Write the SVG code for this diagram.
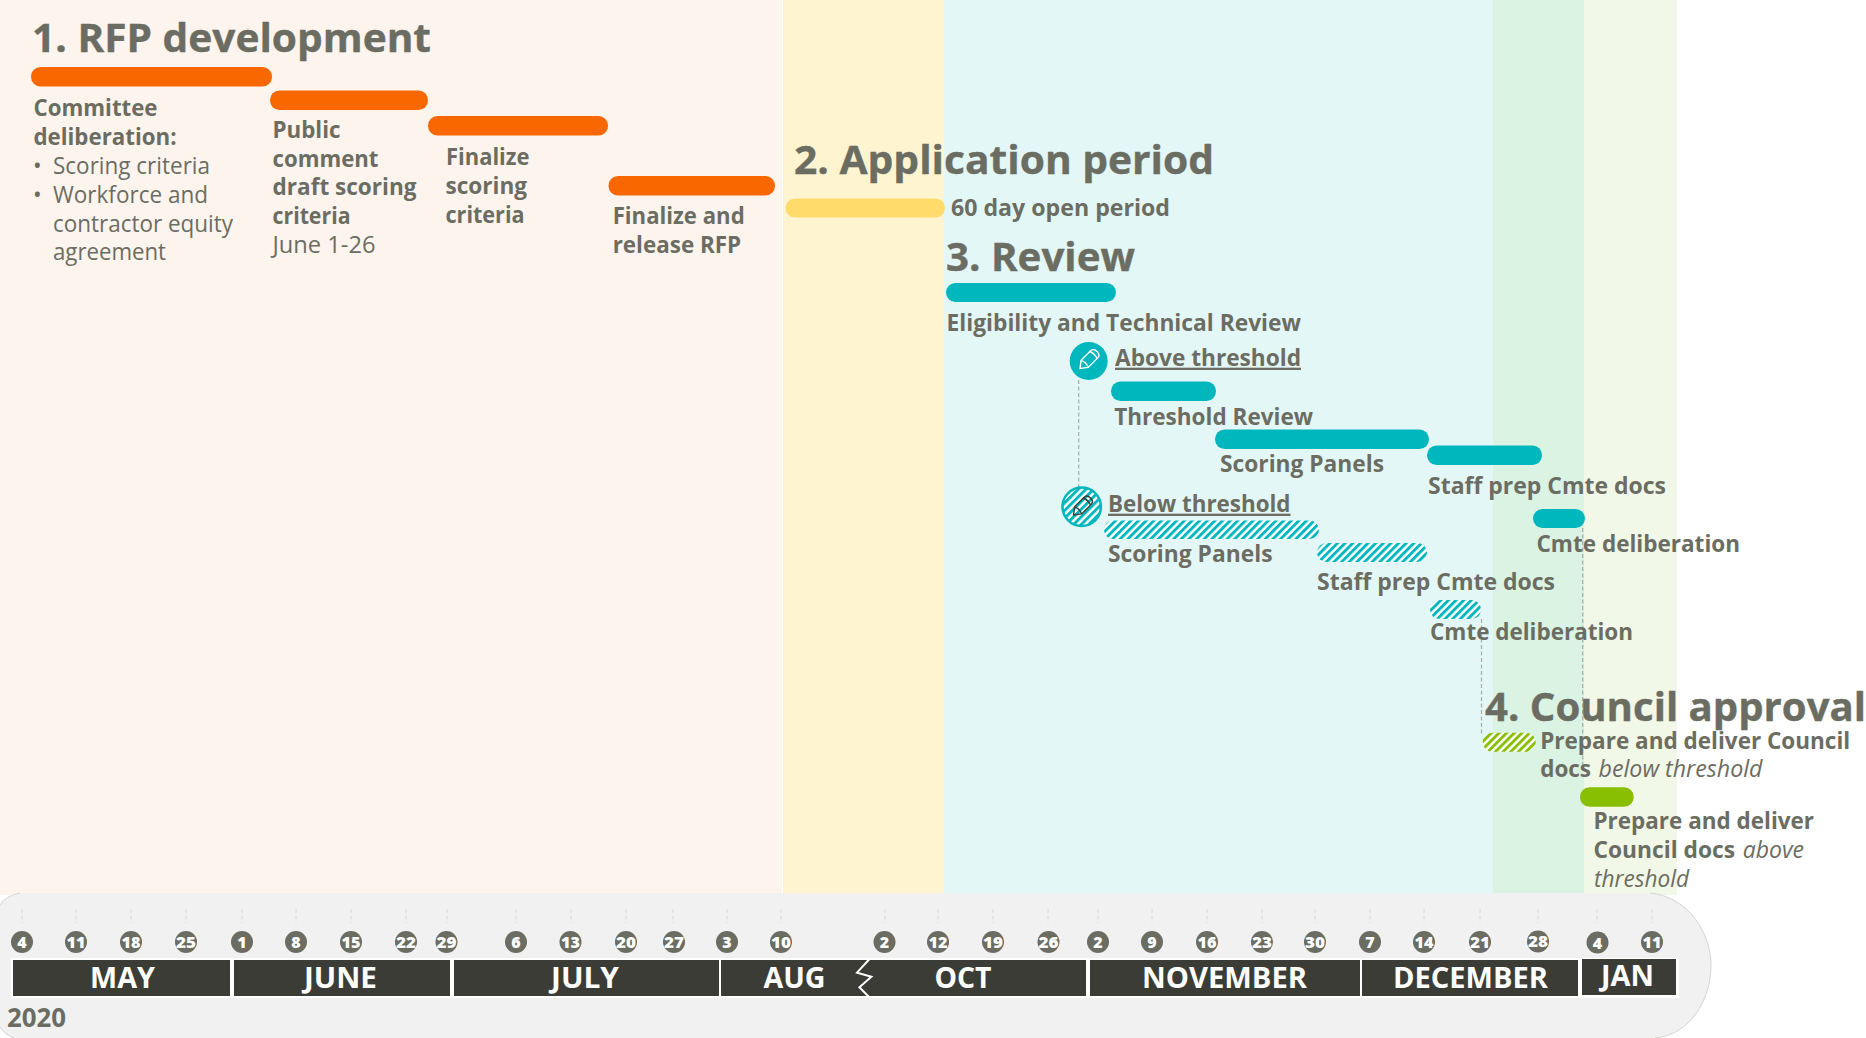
<svg xmlns="http://www.w3.org/2000/svg" width="1866" height="1038" viewBox="0 0 1866 1038">
<style>
text{font-family:"Open Sans","Noto Sans","Liberation Sans",sans-serif;fill:#6B6D62}
.h{font-size:40px;font-weight:700;stroke:#6B6D62;stroke-width:.4px}
.b{font-size:23px;font-weight:700}
.r{font-size:23px;font-weight:400}
.i{font-size:23px;font-weight:400;font-style:italic}
.u{text-decoration:underline}
.m{font-size:28px;font-weight:700;fill:#fff}
.d{font-size:16px;font-weight:800;fill:#fff;text-anchor:middle}
.or{fill:#F96800}.te{fill:#00B7BD}.gr{fill:#88BF00}.ye{fill:#FFDB6B}
.ht{fill:url(#hatchT)}.hg{fill:url(#hatchG)}
.dash{stroke:#A9ABA6;stroke-width:1.2;stroke-dasharray:4 2.5;fill:none}
.tick{stroke:#D8D8D6;stroke-width:1;stroke-dasharray:4 2.5}
.dc{fill:#6B6D62}
.mb{fill:#3B3C36}
</style>
<defs>
<pattern id="hatchT" width="5.4" height="5.4" patternUnits="userSpaceOnUse" patternTransform="rotate(45)"><rect width="5.4" height="5.4" fill="#fff"/><rect width="2.9" height="5.4" fill="#00B7BD"/></pattern>
<pattern id="hatchG" width="5.4" height="5.4" patternUnits="userSpaceOnUse" patternTransform="rotate(45)"><rect width="5.4" height="5.4" fill="#fff"/><rect width="2.9" height="5.4" fill="#88BF00"/></pattern>
<g id="pencil"><path d="M-12 0L-5.500 -5H8Q12 -5 12 0Q12 5 8 5H-5.500Z M-5.500 -5Q-3 0-5.500 5 M7 -5Q9 0 7 5" fill="none" stroke-width="1.400"/></g>
</defs>

<g id="bands">
<rect x="0" y="0" width="782" height="895" fill="#FEF4EE"/>
<rect x="783" y="0" width="161" height="895" fill="#FFF4D0"/>
<rect x="944" y="0" width="549" height="895" fill="#E4F7F7"/>
<rect x="1493" y="0" width="91" height="895" fill="#DAF3E3"/>
<rect x="1584" y="0" width="93" height="895" fill="#F1F8E7"/>
</g>

<g id="timeline">
<path d="M0 905Q5 896 20 893H1650C1690 897 1711 935 1711 965C1711 1000 1690 1035 1655 1038H14Q4 1034 0 1027Z" fill="#F1F1F1"/>
<path d="M0 905Q5 896 20 893M1650 893C1690 897 1711 935 1711 965C1711 1000 1690 1035 1655 1038M14 1038Q4 1034 0 1027" fill="none" stroke="#D4D4D0" stroke-width="1"/>
<g class="ticks">
<path class="tick" d="M22 909V923M76 909V923M131 909V923M186 909V923M242 909V923M296 909V923M351 909V923M406 909V923M447 909V923M516 909V923M571 909V923M626 909V923M673 909V923M727 909V923M781 909V923M885 909V923M938 909V923M993 909V923M1048 909V923M1098 909V923M1152 909V923M1207 909V923M1262 909V923M1315 909V923M1370 909V923M1424 909V923M1480 909V923M1538 909V923M1597 909V923M1652 909V923"/>
</g>
<rect x="11" y="958" width="1668" height="40" fill="#fff"/>
<rect class="mb" x="13" y="960" width="217" height="36"/>
<rect class="mb" x="234" y="960" width="216" height="36"/>
<rect class="mb" x="454" y="960" width="265" height="36"/>
<rect class="mb" x="721" y="960" width="365" height="36"/>
<rect class="mb" x="1090" y="960" width="270" height="36"/>
<rect class="mb" x="1362" y="960" width="216" height="36"/>
<rect class="mb" x="1582" y="959" width="94" height="36"/>
<path d="M869.500 959L857 972.700L871.400 976.700L859.400 987.300L869 997" fill="none" stroke="#fff" stroke-width="2"/>
<text class="m" x="90" y="987.500" textLength="65" lengthAdjust="spacingAndGlyphs">MAY</text>
<text class="m" x="304" y="987.500" textLength="73" lengthAdjust="spacingAndGlyphs">JUNE</text>
<text class="m" x="551" y="987.500" textLength="68" lengthAdjust="spacingAndGlyphs">JULY</text>
<text class="m" x="763.500" y="987.500" textLength="62" lengthAdjust="spacingAndGlyphs">AUG</text>
<text class="m" x="934.500" y="987.500" textLength="57" lengthAdjust="spacingAndGlyphs">OCT</text>
<text class="m" x="1142" y="987.500" textLength="165" lengthAdjust="spacingAndGlyphs">NOVEMBER</text>
<text class="m" x="1393" y="987.500" textLength="155" lengthAdjust="spacingAndGlyphs">DECEMBER</text>
<text class="m" x="1601" y="986" textLength="53" lengthAdjust="spacingAndGlyphs">JAN</text>
<text x="7" y="1026.500" font-size="26" font-weight="700" textLength="59" lengthAdjust="spacingAndGlyphs">2020</text>
<g class="days">
<circle class="dc" cx="22" cy="942" r="11"/><text class="d" x="22" y="948">4</text>
<circle class="dc" cx="76" cy="942" r="11"/><text class="d" x="76" y="948" textLength="19" lengthAdjust="spacingAndGlyphs">11</text>
<circle class="dc" cx="131" cy="942" r="11"/><text class="d" x="131" y="948" textLength="19" lengthAdjust="spacingAndGlyphs">18</text>
<circle class="dc" cx="186" cy="942" r="11"/><text class="d" x="186" y="948" textLength="20" lengthAdjust="spacingAndGlyphs">25</text>
<circle class="dc" cx="242" cy="942" r="11"/><text class="d" x="242" y="948">1</text>
<circle class="dc" cx="296" cy="942" r="11"/><text class="d" x="296" y="948">8</text>
<circle class="dc" cx="351" cy="942" r="11"/><text class="d" x="351" y="948" textLength="19" lengthAdjust="spacingAndGlyphs">15</text>
<circle class="dc" cx="406" cy="942" r="11"/><text class="d" x="406" y="948" textLength="20" lengthAdjust="spacingAndGlyphs">22</text>
<circle class="dc" cx="446.500" cy="942" r="11"/><text class="d" x="446.500" y="948" textLength="20" lengthAdjust="spacingAndGlyphs">29</text>
<circle class="dc" cx="516" cy="942" r="11"/><text class="d" x="516" y="948">6</text>
<circle class="dc" cx="570.500" cy="942" r="11"/><text class="d" x="570.500" y="948" textLength="19" lengthAdjust="spacingAndGlyphs">13</text>
<circle class="dc" cx="626" cy="942" r="11"/><text class="d" x="626" y="948" textLength="20" lengthAdjust="spacingAndGlyphs">20</text>
<circle class="dc" cx="674" cy="942" r="11"/><text class="d" x="674" y="948" textLength="20" lengthAdjust="spacingAndGlyphs">27</text>
<circle class="dc" cx="727" cy="942" r="11"/><text class="d" x="727" y="948">3</text>
<circle class="dc" cx="781" cy="942" r="11"/><text class="d" x="781" y="948" textLength="20" lengthAdjust="spacingAndGlyphs">10</text>
<circle class="dc" cx="884.500" cy="942" r="11"/><text class="d" x="884.500" y="948">2</text>
<circle class="dc" cx="938" cy="942" r="11"/><text class="d" x="938" y="948" textLength="19" lengthAdjust="spacingAndGlyphs">12</text>
<circle class="dc" cx="993" cy="942" r="11"/><text class="d" x="993" y="948" textLength="20" lengthAdjust="spacingAndGlyphs">19</text>
<circle class="dc" cx="1048.500" cy="942" r="11"/><text class="d" x="1048.500" y="948" textLength="20" lengthAdjust="spacingAndGlyphs">26</text>
<circle class="dc" cx="1098" cy="942" r="11"/><text class="d" x="1098" y="948">2</text>
<circle class="dc" cx="1152" cy="942" r="11"/><text class="d" x="1152" y="948">9</text>
<circle class="dc" cx="1207" cy="942" r="11"/><text class="d" x="1207" y="948" textLength="19" lengthAdjust="spacingAndGlyphs">16</text>
<circle class="dc" cx="1262" cy="942" r="11"/><text class="d" x="1262" y="948" textLength="20" lengthAdjust="spacingAndGlyphs">23</text>
<circle class="dc" cx="1315" cy="942" r="11"/><text class="d" x="1315" y="948" textLength="20" lengthAdjust="spacingAndGlyphs">30</text>
<circle class="dc" cx="1370" cy="942" r="11"/><text class="d" x="1370" y="948">7</text>
<circle class="dc" cx="1424" cy="942" r="11"/><text class="d" x="1424" y="948" textLength="19" lengthAdjust="spacingAndGlyphs">14</text>
<circle class="dc" cx="1480" cy="942" r="11"/><text class="d" x="1480" y="948" textLength="20" lengthAdjust="spacingAndGlyphs">21</text>
<circle class="dc" cx="1538" cy="941.500" r="11"/><text class="d" x="1538" y="947" textLength="20" lengthAdjust="spacingAndGlyphs">28</text>
<circle class="dc" cx="1597.500" cy="942.500" r="11"/><text class="d" x="1597.500" y="948.500">4</text>
<circle class="dc" cx="1652" cy="942" r="11"/><text class="d" x="1652" y="948" textLength="19" lengthAdjust="spacingAndGlyphs">11</text>
</g>
</g>

<g id="connectors">
<path class="dash" d="M1078.700 380V492"/>
<path class="dash" d="M1481.500 619V735"/>
<path class="dash" d="M1582.700 528V768"/>
</g>

<g id="phase1">
<text class="h" x="32" y="52" textLength="399" lengthAdjust="spacingAndGlyphs">1. RFP development</text>
</g>
<g id="task-committee">
<rect class="or" x="31" y="67" width="241" height="19.500" rx="9.500"/>
<text class="b" x="33.500" y="116" textLength="124" lengthAdjust="spacingAndGlyphs">Committee</text>
<text class="b" x="33.500" y="144.500" textLength="143" lengthAdjust="spacingAndGlyphs">deliberation:</text>
<text class="r" x="33" y="173.500">•</text>
<text class="r" x="53" y="173.500" textLength="157" lengthAdjust="spacingAndGlyphs">Scoring criteria</text>
<text class="r" x="33" y="202.500">•</text>
<text class="r" x="53" y="202.500" textLength="155" lengthAdjust="spacingAndGlyphs">Workforce and</text>
<text class="r" x="53" y="232" textLength="180" lengthAdjust="spacingAndGlyphs">contractor equity</text>
<text class="r" x="53" y="260" textLength="113" lengthAdjust="spacingAndGlyphs">agreement</text>
</g>
<g id="task-public">
<rect class="or" x="270" y="90.500" width="158" height="19.500" rx="9.500"/>
<text class="b" x="272.500" y="138" textLength="68" lengthAdjust="spacingAndGlyphs">Public</text>
<text class="b" x="272.500" y="166.700" textLength="106" lengthAdjust="spacingAndGlyphs">comment</text>
<text class="b" x="272.500" y="194.700" textLength="144" lengthAdjust="spacingAndGlyphs">draft scoring</text>
<text class="b" x="272.500" y="223.700" textLength="78" lengthAdjust="spacingAndGlyphs">criteria</text>
<text class="r" x="272.500" y="253" textLength="103" lengthAdjust="spacingAndGlyphs">June 1-26</text>
</g>
<g id="task-finalize">
<rect class="or" x="428" y="116" width="180" height="19.500" rx="9.500"/>
<text class="b" x="446" y="165" textLength="83.500" lengthAdjust="spacingAndGlyphs">Finalize</text>
<text class="b" x="445.500" y="194" textLength="81.500" lengthAdjust="spacingAndGlyphs">scoring</text>
<text class="b" x="445.500" y="222.700" textLength="79" lengthAdjust="spacingAndGlyphs">criteria</text>
</g>
<g id="task-release">
<rect class="or" x="608.500" y="176" width="166.500" height="19.500" rx="9.500"/>
<text class="b" x="612.700" y="223.700" textLength="132" lengthAdjust="spacingAndGlyphs">Finalize and</text>
<text class="b" x="612.700" y="253" textLength="128.500" lengthAdjust="spacingAndGlyphs">release RFP</text>
</g>

<g id="phase2">
<text class="h" x="794" y="173.500" textLength="420" lengthAdjust="spacingAndGlyphs">2. Application period</text>
<rect class="ye" x="785.500" y="198.500" width="159.500" height="19" rx="9.500"/>
<text class="b" x="951" y="215.500" textLength="219" lengthAdjust="spacingAndGlyphs">60 day open period</text>
</g>

<g id="phase3">
<text class="h" x="946" y="271" textLength="189" lengthAdjust="spacingAndGlyphs">3. Review</text>
</g>
<g id="task-eligibility">
<rect class="te" x="946" y="283" width="170" height="19" rx="9.500"/>
<text class="b" x="946.500" y="330.500" textLength="354.500" lengthAdjust="spacingAndGlyphs">Eligibility and Technical Review</text>
</g>
<g id="above-threshold">
<circle class="te" cx="1088.700" cy="361" r="19"/>
<use href="#pencil" transform="translate(1088.500 360) rotate(-45)" stroke="#fff"/>
<text class="b u" x="1115" y="365.700" textLength="186" lengthAdjust="spacingAndGlyphs">Above threshold</text>
</g>
<g id="task-threshold-review">
<rect class="te" x="1111" y="381.500" width="105" height="19.500" rx="9.500"/>
<text class="b" x="1114.200" y="425" textLength="198.800" lengthAdjust="spacingAndGlyphs">Threshold Review</text>
</g>
<g id="task-scoring-above">
<rect class="te" x="1215" y="429.500" width="214" height="19.500" rx="9.500"/>
<text class="b" x="1220" y="471.700" textLength="164" lengthAdjust="spacingAndGlyphs">Scoring Panels</text>
</g>
<g id="task-staff-above">
<rect class="te" x="1427" y="445.500" width="115" height="19.500" rx="9.500"/>
<text class="b" x="1428" y="493.500" textLength="238" lengthAdjust="spacingAndGlyphs">Staff prep Cmte docs</text>
</g>
<g id="task-cmte-above">
<rect class="te" x="1533" y="509" width="52" height="19" rx="9.500"/>
<text class="b" x="1536.500" y="552" textLength="203.500" lengthAdjust="spacingAndGlyphs">Cmte deliberation</text>
</g>
<g id="below-threshold">
<circle class="ht" cx="1081.700" cy="506.700" r="19.200" stroke="#00B7BD" stroke-width="2.500"/>
<use href="#pencil" transform="translate(1082 506.500) rotate(-45)" stroke="#3B3C36"/>
<text class="b u" x="1108" y="511.700" textLength="182.500" lengthAdjust="spacingAndGlyphs">Below threshold</text>
</g>
<g id="task-scoring-below">
<rect class="ht" x="1104" y="520.500" width="215" height="18.500" rx="9.250"/>
<text class="b" x="1108" y="561.700" textLength="164.500" lengthAdjust="spacingAndGlyphs">Scoring Panels</text>
</g>
<g id="task-staff-below">
<rect class="ht" x="1317" y="543" width="110" height="19" rx="9.500"/>
<text class="b" x="1317" y="590" textLength="238" lengthAdjust="spacingAndGlyphs">Staff prep Cmte docs</text>
</g>
<g id="task-cmte-below">
<rect class="ht" x="1430" y="600" width="51" height="19" rx="9.500"/>
<text class="b" x="1430" y="640" textLength="203" lengthAdjust="spacingAndGlyphs">Cmte deliberation</text>
</g>

<g id="phase4">
<text class="h" x="1485" y="720.500" textLength="381" lengthAdjust="spacingAndGlyphs">4. Council approval</text>
</g>
<g id="task-docs-below">
<rect class="hg" x="1482.700" y="732.700" width="53" height="19" rx="9.500"/>
<text class="b" x="1540.200" y="749" textLength="310" lengthAdjust="spacingAndGlyphs">Prepare and deliver Council</text>
<text class="b" x="1540.200" y="777.300" textLength="50.800" lengthAdjust="spacingAndGlyphs">docs</text>
<text class="i" x="1598.500" y="777.300" textLength="164" lengthAdjust="spacingAndGlyphs">below threshold</text>
</g>
<g id="task-docs-above">
<rect class="gr" x="1580" y="787.300" width="53.700" height="19.500" rx="9.500"/>
<text class="b" x="1593.500" y="829" textLength="220.500" lengthAdjust="spacingAndGlyphs">Prepare and deliver</text>
<text class="b" x="1593.500" y="858" textLength="141.500" lengthAdjust="spacingAndGlyphs">Council docs</text>
<text class="i" x="1742.700" y="858" textLength="61.300" lengthAdjust="spacingAndGlyphs">above</text>
<text class="i" x="1594" y="887" textLength="95" lengthAdjust="spacingAndGlyphs">threshold</text>
</g>
</svg>
